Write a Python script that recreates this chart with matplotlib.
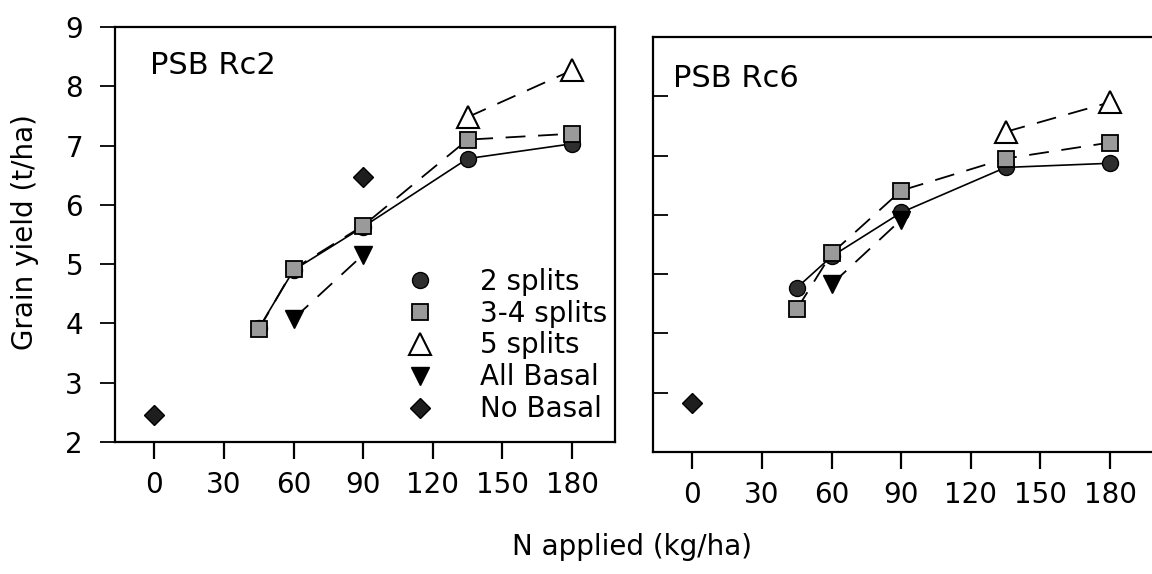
import matplotlib
matplotlib.use("Agg")
import matplotlib.pyplot as plt
from matplotlib.lines import Line2D

# ---------------- data ----------------
n_ticks = [0, 30, 60, 90, 120, 150, 180]
y_ticks = [2, 3, 4, 5, 6, 7, 8, 9]

series_names = ["2 splits", "3-4 splits", "5 splits", "All Basal", "No Basal"]

# PSB Rc2
rc2_2s_x = [45, 60, 90, 135, 180]
rc2_2s_y = [3.92, 4.90, 5.63, 6.78, 7.03]
rc2_34s_x = [45, 60, 90, 135, 180]
rc2_34s_y = [3.90, 4.92, 5.65, 7.10, 7.20]
rc2_5s_x = [135, 180]
rc2_5s_y = [7.48, 8.27]
rc2_ab_x = [60, 90]
rc2_ab_y = [4.08, 5.16]
rc2_nb_x = [0, 90]
rc2_nb_y = [2.46, 6.47]

# PSB Rc6
rc6_2s_x = [45, 60, 90, 135, 180]
rc6_2s_y = [4.77, 5.30, 6.04, 6.80, 6.87]
rc6_34s_x = [45, 60, 90, 135, 180]
rc6_34s_y = [4.41, 5.35, 6.41, 6.95, 7.22]
rc6_5s_x = [135, 180]
rc6_5s_y = [7.40, 7.90]
rc6_ab_x = [60, 90]
rc6_ab_y = [4.83, 5.92]
rc6_nb_x = [0]
rc6_nb_y = [2.82]

panels = [
    ("PSB Rc2", [(rc2_2s_x, rc2_2s_y), (rc2_34s_x, rc2_34s_y), (rc2_5s_x, rc2_5s_y),
                 (rc2_ab_x, rc2_ab_y), (rc2_nb_x, rc2_nb_y)]),
    ("PSB Rc6", [(rc6_2s_x, rc6_2s_y), (rc6_34s_x, rc6_34s_y), (rc6_5s_x, rc6_5s_y),
                 (rc6_ab_x, rc6_ab_y), (rc6_nb_x, rc6_nb_y)]),
]

# ---------------- styles ----------------
styles = [
    dict(marker="o", ms=11.5, mfc="#2e2e2e", mec="black", mew=1.0, ls="-", lw=1.2, dashes=None),
    dict(marker="s", ms=11, mfc="#9a9a9a", mec="black", mew=1.3, ls="--", lw=1.3, dashes=(11, 7)),
    dict(marker="^", ms=16, mfc="white", mec="black", mew=1.5, ls="--", lw=1.3, dashes=(11, 7)),
    dict(marker="v", ms=13, mfc="black", mec="black", mew=1.0, ls="--", lw=1.3, dashes=(11, 7)),
    dict(marker="D", ms=10.5, mfc="#1e1e1e", mec="black", mew=1.0, ls="none", lw=0, dashes=None),
]

W, H = 1152, 574
fig = plt.figure(figsize=(W / 100, H / 100), dpi=100)
fig.patch.set_facecolor("white")

ax_rects = [
    (115 / W, 1 - 442 / H, 500 / W, 415 / H),
    (653 / W, 1 - 452 / H, 500 / W, 415 / H),
]
label_pos = [(0.07, 0.908), (0.04, 0.901)]

FS = 20
axes = []
for i, (title, data) in enumerate(panels):
    ax = fig.add_axes(ax_rects[i])
    axes.append(ax)
    ax.set_xlim(-17, 198.5)
    ax.set_ylim(2, 9)
    for (xs, ys), st in zip(data, styles):
        if st["ls"] != "none" and len(xs) > 1:
            ln, = ax.plot(xs, ys, color="black", lw=st["lw"], ls=st["ls"], zorder=2)
            if st["dashes"]:
                ln.set_dashes(st["dashes"])
    for (xs, ys), st in zip(data, styles):
        ax.plot(xs, ys, ls="none", marker=st["marker"], ms=st["ms"], mfc=st["mfc"],
                mec=st["mec"], mew=st["mew"], zorder=3)
    ax.text(label_pos[i][0], label_pos[i][1], title, transform=ax.transAxes,
            fontsize=22, ha="left", va="center")
    ax.set_xticks(n_ticks)
    ax.set_xticklabels([str(v) for v in n_ticks])
    ax.set_yticks(y_ticks)
    ax.tick_params(axis="x", direction="out", length=12, width=1.6, pad=9,
                   labelsize=FS, top=False)
    for s in ax.spines.values():
        s.set_linewidth(1.6)
    if i == 0:
        ax.tick_params(axis="y", direction="out", length=11, width=1.3, pad=12,
                       labelsize=FS, right=False)
    else:
        ax.tick_params(axis="y", direction="in", length=11, width=1.3,
                       labelleft=False, right=False)
        ax.spines["right"].set_visible(False)

# legend (markers only) in the left panel
handles = [Line2D([], [], ls="none", marker=st["marker"], ms=st["ms"], mfc=st["mfc"],
                  mec=st["mec"], mew=st["mew"]) for st in styles]
axes[0].legend(handles, series_names, loc="upper left", bbox_to_anchor=(0.582, 0.42),
               frameon=False, fontsize=FS, handlelength=1.0, handletextpad=1.65,
               labelspacing=0.14, borderpad=0, borderaxespad=0, numpoints=1)

fig.text(25 / W, 1 - 232 / H, "Grain yield (t/ha)", rotation=90, fontsize=FS,
         ha="center", va="center")
fig.text(632 / W, 1 - 547 / H, "N applied (kg/ha)", fontsize=FS, ha="center", va="center")

fig.savefig("out.png", dpi=100)
